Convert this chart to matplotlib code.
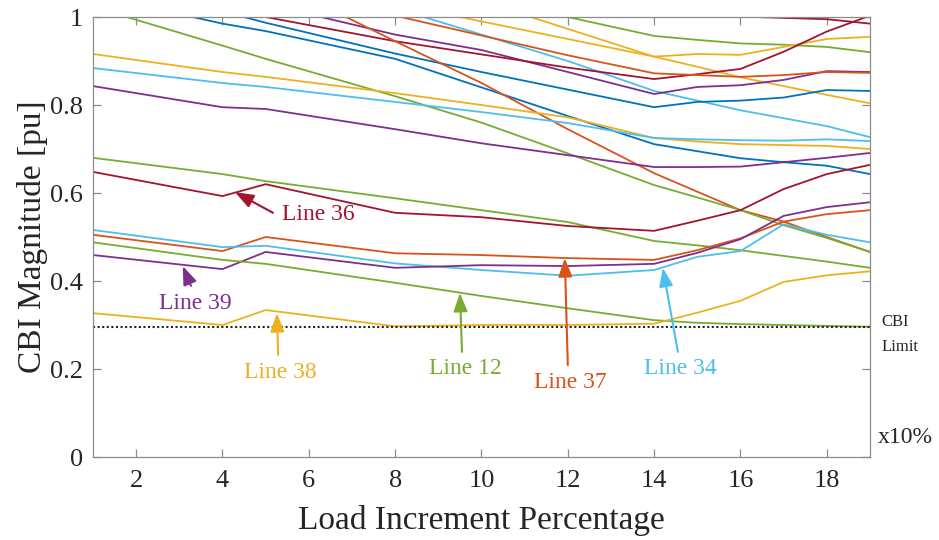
import matplotlib
matplotlib.use('Agg')
import matplotlib.pyplot as plt

plt.rcParams['font.family'] = ['Liberation Serif', 'DejaVu Serif']

# Load increment steps (x10%)
steps = [1, 4, 5, 8, 10, 12, 14, 15, 16, 17, 18, 19]

# CBI magnitude per line (pu) - labelled lines
line38 = [0.327, 0.300, 0.334, 0.297, 0.300, 0.300, 0.303, 0.328, 0.355, 0.398, 0.413, 0.422]
line12 = [0.488, 0.448, 0.439, 0.396, 0.366, 0.338, 0.311, 0.305, 0.302, 0.300, 0.298, 0.296]
line39 = [0.459, 0.427, 0.466, 0.430, 0.436, 0.434, 0.439, 0.464, 0.495, 0.548, 0.568, 0.579]
line34 = [0.516, 0.477, 0.480, 0.440, 0.425, 0.412, 0.425, 0.455, 0.468, 0.529, 0.505, 0.488]
line37 = [0.505, 0.468, 0.500, 0.463, 0.459, 0.452, 0.448, 0.470, 0.497, 0.535, 0.552, 0.561]
line36 = [0.648, 0.593, 0.620, 0.555, 0.545, 0.525, 0.514, 0.537, 0.561, 0.609, 0.643, 0.664]

# remaining lines
green_mid = [0.680, 0.643, 0.627, 0.588, 0.561, 0.534, 0.491, 0.481, 0.470, 0.457, 0.444, 0.430]
purple_mid = [0.843, 0.795, 0.791, 0.745, 0.713, 0.686, 0.659, 0.659, 0.660, 0.670, 0.680, 0.691]
cyan_mid = [0.884, 0.850, 0.841, 0.807, 0.784, 0.759, 0.725, 0.722, 0.720, 0.719, 0.722, 0.718]
yellow_mid = [0.916, 0.875, 0.864, 0.827, 0.800, 0.772, 0.725, 0.717, 0.711, 0.709, 0.707, 0.700]
green_steep = [1.023, 0.935, 0.905, 0.820, 0.760, 0.690, 0.618, 0.590, 0.561, 0.527, 0.498, 0.466]
orange_steep = [1.290, 1.140, 1.090, 0.945, 0.850, 0.745, 0.645, 0.603, 0.561, 0.535, 0.500, 0.466]
orange_top = [1.160, 1.090, 1.070, 1.003, 0.958, 0.913, 0.872, 0.868, 0.864, 0.868, 0.875, 0.873]
red_mid = [1.100, 1.025, 1.000, 0.945, 0.915, 0.885, 0.859, 0.870, 0.882, 0.921, 0.967, 1.003]
purple_top = [1.140, 1.060, 1.030, 0.960, 0.925, 0.875, 0.825, 0.841, 0.845, 0.857, 0.877, 0.875]
blue_low = [1.050, 0.985, 0.968, 0.905, 0.840, 0.775, 0.711, 0.695, 0.679, 0.670, 0.662, 0.643]
blue_up = [1.100, 1.013, 0.987, 0.917, 0.875, 0.835, 0.795, 0.807, 0.810, 0.817, 0.834, 0.832]
cyan_top = [1.250, 1.140, 1.100, 1.020, 0.960, 0.900, 0.832, 0.810, 0.788, 0.770, 0.752, 0.727]
yellow_a = [1.200, 1.120, 1.100, 1.030, 0.990, 0.950, 0.910, 0.916, 0.914, 0.932, 0.950, 0.955]
yellow_b = [1.350, 1.250, 1.210, 1.100, 1.036, 0.973, 0.910, 0.887, 0.863, 0.843, 0.823, 0.804]
green_top = [1.250, 1.160, 1.140, 1.080, 1.040, 1.000, 0.957, 0.948, 0.940, 0.937, 0.932, 0.920]
red_top = [1.300, 1.200, 1.150, 1.080, 1.050, 1.030, 1.012, 1.006, 1.001, 0.998, 0.995, 0.985]

cbi_limit = 0.295

# MATLAB default colour order
blue = '#0072BD'
orange = '#D95319'
yellow = '#EDB120'
purple = '#7E2F8E'
green = '#77AC30'
cyan = '#4DBEEE'
red = '#A2142F'

series = [
    (red_top, red), (green_top, green), (yellow_b, yellow), (yellow_a, yellow),
    (cyan_top, cyan), (blue_up, blue), (blue_low, blue), (purple_top, purple),
    (red_mid, red), (orange_top, orange), (orange_steep, orange), (green_steep, green),
    (yellow_mid, yellow), (cyan_mid, cyan), (purple_mid, purple), (green_mid, green),
    (line36, red), (line37, orange), (line34, cyan), (line39, purple),
    (line12, green), (line38, yellow),
]

fig = plt.figure(figsize=(9.39, 5.40), dpi=100)
ax = fig.add_axes([0.099, 0.1537, 0.8275, 0.8148])

for vals, col in series:
    ax.plot(steps, vals, color=col, lw=1.3)

ax.axhline(cbi_limit, color='#222222', ls=(0, (1, 1.2)), lw=1.5)

ax.set_xlim(1, 19)
ax.set_ylim(0, 1)
ax.set_xticks(range(2, 19, 2))
ax.set_yticks([0, 0.2, 0.4, 0.6, 0.8, 1.0])
ax.set_yticklabels(['0', '0.2', '0.4', '0.6', '0.8', '1'])

for sp in ax.spines.values():
    sp.set_color('#8c8c8c')
    sp.set_linewidth(0.9)
ax.tick_params(direction='in', top=True, right=True, length=6, width=0.9,
               color='#8c8c8c', labelsize=19, labelcolor='#262626')
ax.tick_params(axis='y', pad=7)
ax.tick_params(axis='x', pad=9)

ax.set_xlabel('Load Increment Percentage', fontsize=24, color='#262626')
ax.set_ylabel('CBI Magnitude [pu]', fontsize=24, color='#262626')
ax.xaxis.set_label_coords(0.5, -0.11)
ax.yaxis.set_label_coords(-0.058, 0.5)

# labels with arrows pointing at the lines
labels = [
    ('Line 36', red, (4.29, 0.602), (5.17, 0.555), (6.21, 0.552)),
    ('Line 39', purple, (3.08, 0.434), (3.27, 0.389), (3.36, 0.350)),
    ('Line 38', yellow, (5.26, 0.327), (5.29, 0.232), (5.35, 0.193)),
    ('Line 12', green, (9.50, 0.373), (9.55, 0.239), (9.62, 0.202)),
    ('Line 37', orange, (11.93, 0.452), (12.00, 0.209), (12.05, 0.170)),
    ('Line 34', cyan, (14.20, 0.430), (14.55, 0.239), (14.60, 0.202)),
]
for name, col, tip, tail, pos in labels:
    ax.annotate('', xy=tip, xytext=tail,
                arrowprops=dict(arrowstyle='-|>,head_length=0.8,head_width=0.3',
                                color=col, lw=1.5, mutation_scale=14,
                                shrinkA=0, shrinkB=0))
    ax.text(pos[0], pos[1], name, color=col, fontsize=17, ha='center', va='center')

fig.text(0.939, 0.404, 'CBI', fontsize=12, color='#262626', va='center')
fig.text(0.939, 0.357, 'Limit', fontsize=12, color='#262626', va='center')
fig.text(0.935, 0.189, 'x10%', fontsize=17, color='#262626', va='center')

fig.savefig('out.png', dpi=100)
